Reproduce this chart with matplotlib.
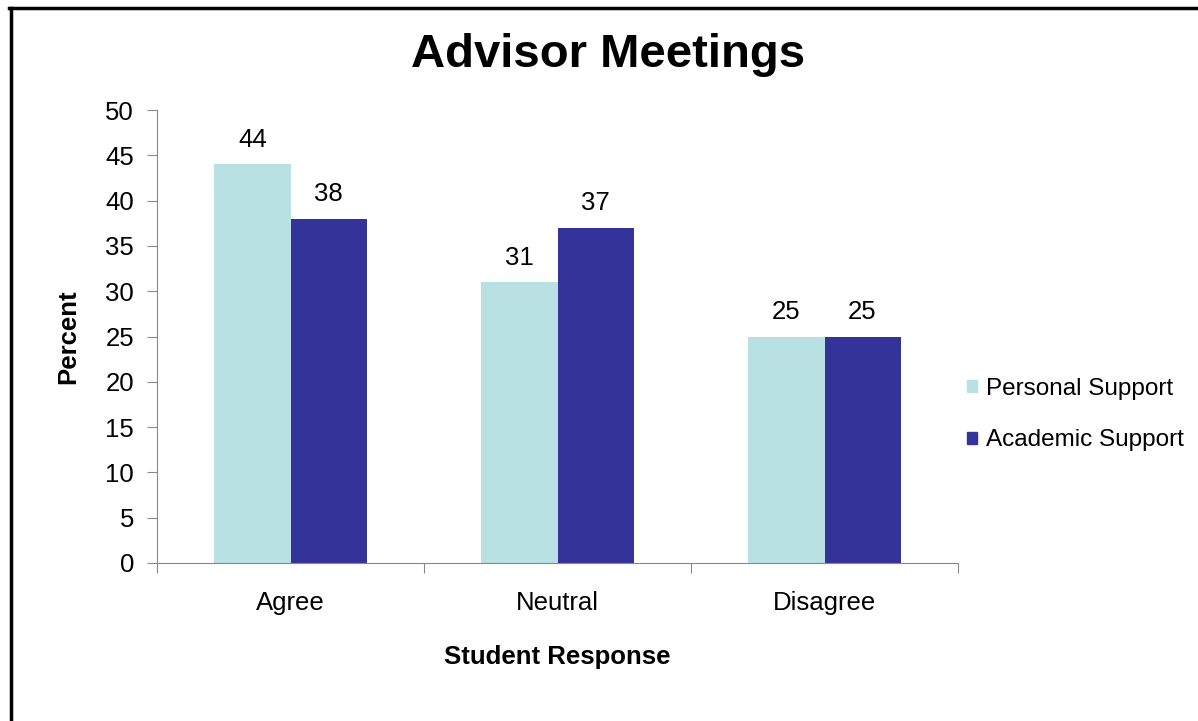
import matplotlib.pyplot as plt
from matplotlib.patches import Patch
from matplotlib.lines import Line2D
import numpy as np

plt.rcParams['font.family'] = ['Liberation Sans', 'DejaVu Sans']

categories = ['Agree', 'Neutral', 'Disagree']
personal = [44, 31, 25]
academic = [38, 37, 25]
series_names = ['Personal Support', 'Academic Support']
colors = ['#B9E0E3', '#333399']

W, H = 1198, 721
fs = 18.5
fig = plt.figure(figsize=(W / 100, H / 100), dpi=100)
ax = fig.add_axes([157 / W, 1 - 563 / H, (958 - 157) / W, (563 - 110) / H])

x = np.arange(len(categories))
bw = 0.285
b1 = ax.bar(x - bw / 2, personal, bw, color=colors[0])
b2 = ax.bar(x + bw / 2, academic, bw, color=colors[1])
ax.bar_label(b1, padding=9, fontsize=fs)
ax.bar_label(b2, padding=9, fontsize=fs)

ax.set_xlim(-0.5, 2.5)
ax.set_ylim(0, 50)
ax.set_yticks(range(0, 51, 5))
ax.set_xticks([-0.5, 0.5, 1.5, 2.5])
ax.set_xticklabels([])
ax.set_xticks(x, minor=True)
ax.set_xticklabels(categories, minor=True)
ax.tick_params(axis='x', which='minor', length=0, pad=20, labelsize=fs)
ax.tick_params(axis='x', which='major', length=7, color='#888888')
ax.tick_params(axis='y', length=7, color='#888888', labelsize=fs, pad=9.5)
for s in ['top', 'right']:
    ax.spines[s].set_visible(False)
for s in ['left', 'bottom']:
    ax.spines[s].set_color('#888888')

ax.set_ylabel('Percent', fontsize=fs, fontweight='bold', labelpad=18)
ax.set_xlabel('Student Response', fontsize=fs, fontweight='bold', labelpad=22)

fig.text(608 / W, 1 - 55 / H, 'Advisor Meetings', fontsize=34, fontweight='bold',
         ha='center', va='center')

lfs = 17.5
handles = [Patch(color=c) for c in colors]
fig.legend(handles, series_names, loc='center left', bbox_to_anchor=(957 / W, 1 - 414.5 / H),
           frameon=False, fontsize=lfs, handlelength=0.41, handleheight=0.41,
           handletextpad=0.4, labelspacing=1.23, borderaxespad=0)

# outer frame (only left and top visible)
fig.add_artist(Line2D([10.5 / W, 10.5 / W], [0, 1 - 8 / H], color='black', lw=2.5,
                      transform=fig.transFigure))
fig.add_artist(Line2D([9.3 / W, 1], [1 - 8 / H, 1 - 8 / H], color='black', lw=2.5,
                      transform=fig.transFigure))

plt.savefig('out.png', dpi=100)
